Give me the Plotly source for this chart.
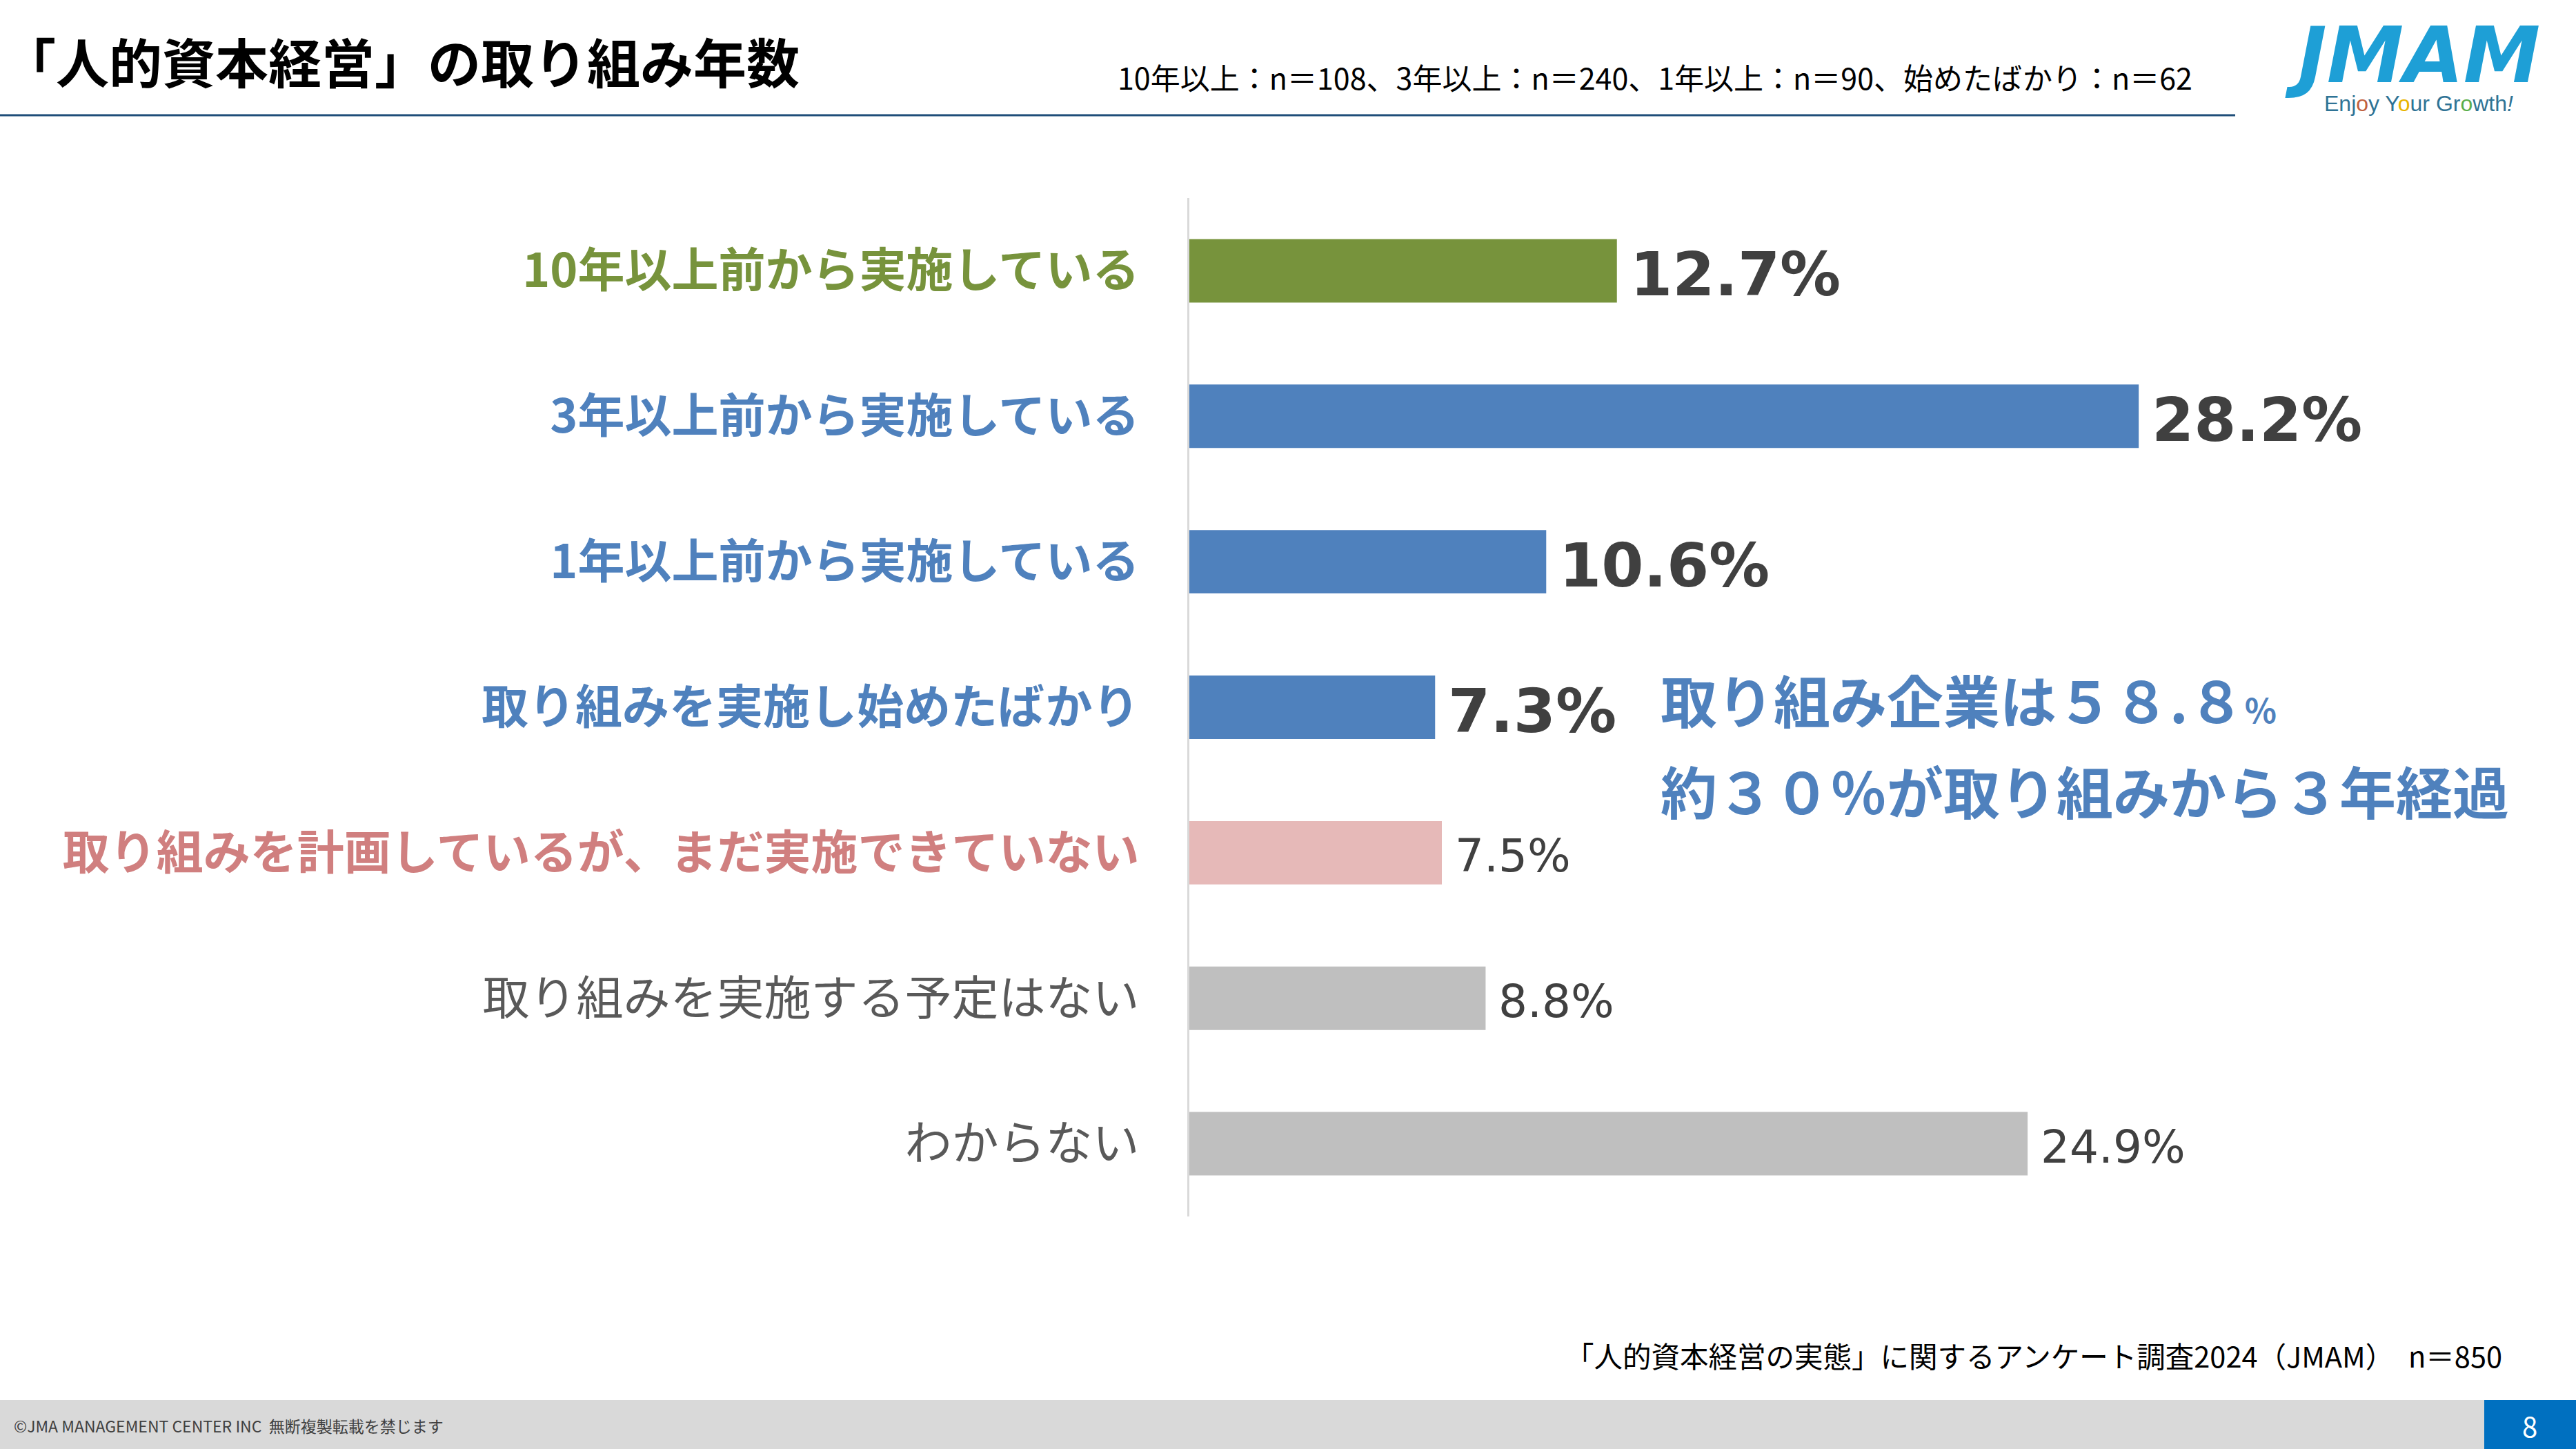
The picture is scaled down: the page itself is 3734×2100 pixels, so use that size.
import plotly.graph_objects as go

# ---------------- data ----------------
categories = [
    "10年以上前から実施している",
    "3年以上前から実施している",
    "1年以上前から実施している",
    "取り組みを実施し始めたばかり",
    "取り組みを計画しているが、まだ実施できていない",
    "取り組みを実施する予定はない",
    "わからない",
]
values = [12.7, 28.2, 10.6, 7.3, 7.5, 8.8, 24.9]
bar_colors = ["#77933C", "#4F81BD", "#4F81BD", "#4F81BD", "#E6B9B8", "#BFBFBF", "#BFBFBF"]
label_colors = ["#77933C", "#4F81BD", "#4F81BD", "#4F81BD", "#D07F7F", "#595959", "#595959"]
label_bold = [True, True, True, True, True, False, False]
value_bold = [True, True, True, True, False, False, False]

title_text = "「人的資本経営」の取り組み年数"
subtitle_text = "10年以上：n＝108、3年以上：n＝240、1年以上：n＝90、始めたばかり：n＝62"
callout_line1 = "取り組み企業は５８.８<span style='font-size:48px'>%</span>"
callout_line2 = "約３０％が取り組みから３年経過"
source_text = "「人的資本経営の実態」に関するアンケート調査2024（JMAM）　n＝850"
copyright_text = "©JMA MANAGEMENT CENTER INC  無断複製転載を禁じます"
page_number = "8"
logo_main = "JMAM"
logo_tagline = ("Enj<span style='color:#C0603D'>o</span>y Y<span style='color:#E8B400'>o</span>ur "
                "Gr<span style='color:#5BAE4A'>o</span>wth<i>!</i>")

# ---------------- layout geometry ----------------
W, H = 3734, 2100
L, R, T, B = 1724, 3684, 287, 1763
PX_PER_UNIT = 48.8
x_max = (R - L) / PX_PER_UNIT

def px(x):
    return (x - L) / (R - L)

def py(y):
    return (B - y) / (B - T)

JP = "Noto Sans CJK JP"
NUM = "DejaVu Sans"

ticktext = []
for c, col, b in zip(categories, label_colors, label_bold):
    t = f"<b>{c}</b>" if b else c
    ticktext.append(f"<span style='color:{col}'>{t}</span>")

fig = go.Figure()
fig.add_trace(go.Bar(
    x=values,
    y=categories,
    orientation="h",
    marker=dict(color=bar_colors, line=dict(width=0)),
    width=0.436,
    hoverinfo="skip",
))

annotations = []
# value labels
for c, v, b in zip(categories, values, value_bold):
    annotations.append(dict(
        x=v, y=c, xref="x", yref="y",
        text=f"{v:.1f}%",
        showarrow=False, xanchor="left", yanchor="middle", xshift=17, yshift=-5,
        font=dict(family=NUM, size=88 if b else 66, color="#404040",
                  weight=700 if b else 400),
    ))

# callout
annotations.append(dict(
    x=px(2405), y=py(1012), xref="paper", yref="paper", text=f"<b>{callout_line1}</b>",
    showarrow=False, xanchor="left", yanchor="middle",
    font=dict(family=JP, size=82, color="#4F81BD"),
))
annotations.append(dict(
    x=px(2405), y=py(1144), xref="paper", yref="paper", text=f"<b>{callout_line2}</b>",
    showarrow=False, xanchor="left", yanchor="middle",
    font=dict(family=JP, size=82, color="#4F81BD"),
))

# header
annotations.append(dict(
    x=px(2), y=py(88), xref="paper", yref="paper", text=f"<b>{title_text}</b>",
    showarrow=False, xanchor="left", yanchor="middle",
    font=dict(family=JP, size=77, color="#000000"),
))
annotations.append(dict(
    x=px(3180), y=py(111), xref="paper", yref="paper", text=subtitle_text,
    showarrow=False, xanchor="right", yanchor="middle",
    font=dict(family=JP, size=43, color="#000000"),
))
# logo (text rendition)
annotations.append(dict(
    x=px(3684), y=py(80), xref="paper", yref="paper", text=f"<b><i>{logo_main}</i></b>",
    showarrow=False, xanchor="right", yanchor="middle",
    font=dict(family="DejaVu Sans", size=112, color="#1E9FD6"),
))
annotations.append(dict(
    x=px(3645), y=py(150), xref="paper", yref="paper", text=logo_tagline,
    showarrow=False, xanchor="right", yanchor="middle",
    font=dict(family="Liberation Sans Narrow, Liberation Sans", size=32, color="#2F7395"),
))

# footer
annotations.append(dict(
    x=px(3629), y=py(1964), xref="paper", yref="paper", text=source_text,
    showarrow=False, xanchor="right", yanchor="middle",
    font=dict(family=JP, size=41.5, color="#000000"),
))
annotations.append(dict(
    x=px(18), y=py(2066), xref="paper", yref="paper", text=copyright_text,
    showarrow=False, xanchor="left", yanchor="middle",
    font=dict(family=JP, size=23, color="#404040"),
))
annotations.append(dict(
    x=px(3667), y=py(2066), xref="paper", yref="paper", text=page_number,
    showarrow=False, xanchor="center", yanchor="middle",
    font=dict(family=JP, size=40, color="#FFFFFF"),
))

shapes = [
    dict(type="line", xref="paper", yref="paper", x0=px(0), x1=px(3240), y0=py(167), y1=py(167),
         line=dict(color="#1F4E79", width=3)),
    dict(type="rect", xref="paper", yref="paper", x0=px(0), x1=px(W), y0=py(H), y1=py(2029),
         fillcolor="#D9D9D9", line=dict(width=0), layer="below"),
    dict(type="rect", xref="paper", yref="paper", x0=px(3601), x1=px(W), y0=py(H), y1=py(2029),
         fillcolor="#0070C0", line=dict(width=0), layer="above"),
]

fig.update_layout(
    width=W, height=H,
    margin=dict(l=L, r=W - R, t=T, b=H - B, pad=0),
    paper_bgcolor="#FFFFFF", plot_bgcolor="#FFFFFF",
    showlegend=False,
    annotations=annotations,
    shapes=shapes,
    xaxis=dict(range=[0, x_max], visible=False, fixedrange=True),
    yaxis=dict(
        type="category",
        categoryorder="array", categoryarray=categories,
        range=[len(categories) - 0.5, -0.5],
        tickvals=categories, ticktext=ticktext,
        tickfont=dict(family=JP, size=68),
        ticks="", ticklabelstandoff=56,
        showline=True, linecolor="#D9D9D9", linewidth=3,
        showgrid=False, zeroline=False, fixedrange=True,
    ),
)

fig.write_html(
    "out.html",
    config={"displayModeBar": False},
    post_script="document.body.style.margin='0';document.body.style.overflow='hidden';",
)
